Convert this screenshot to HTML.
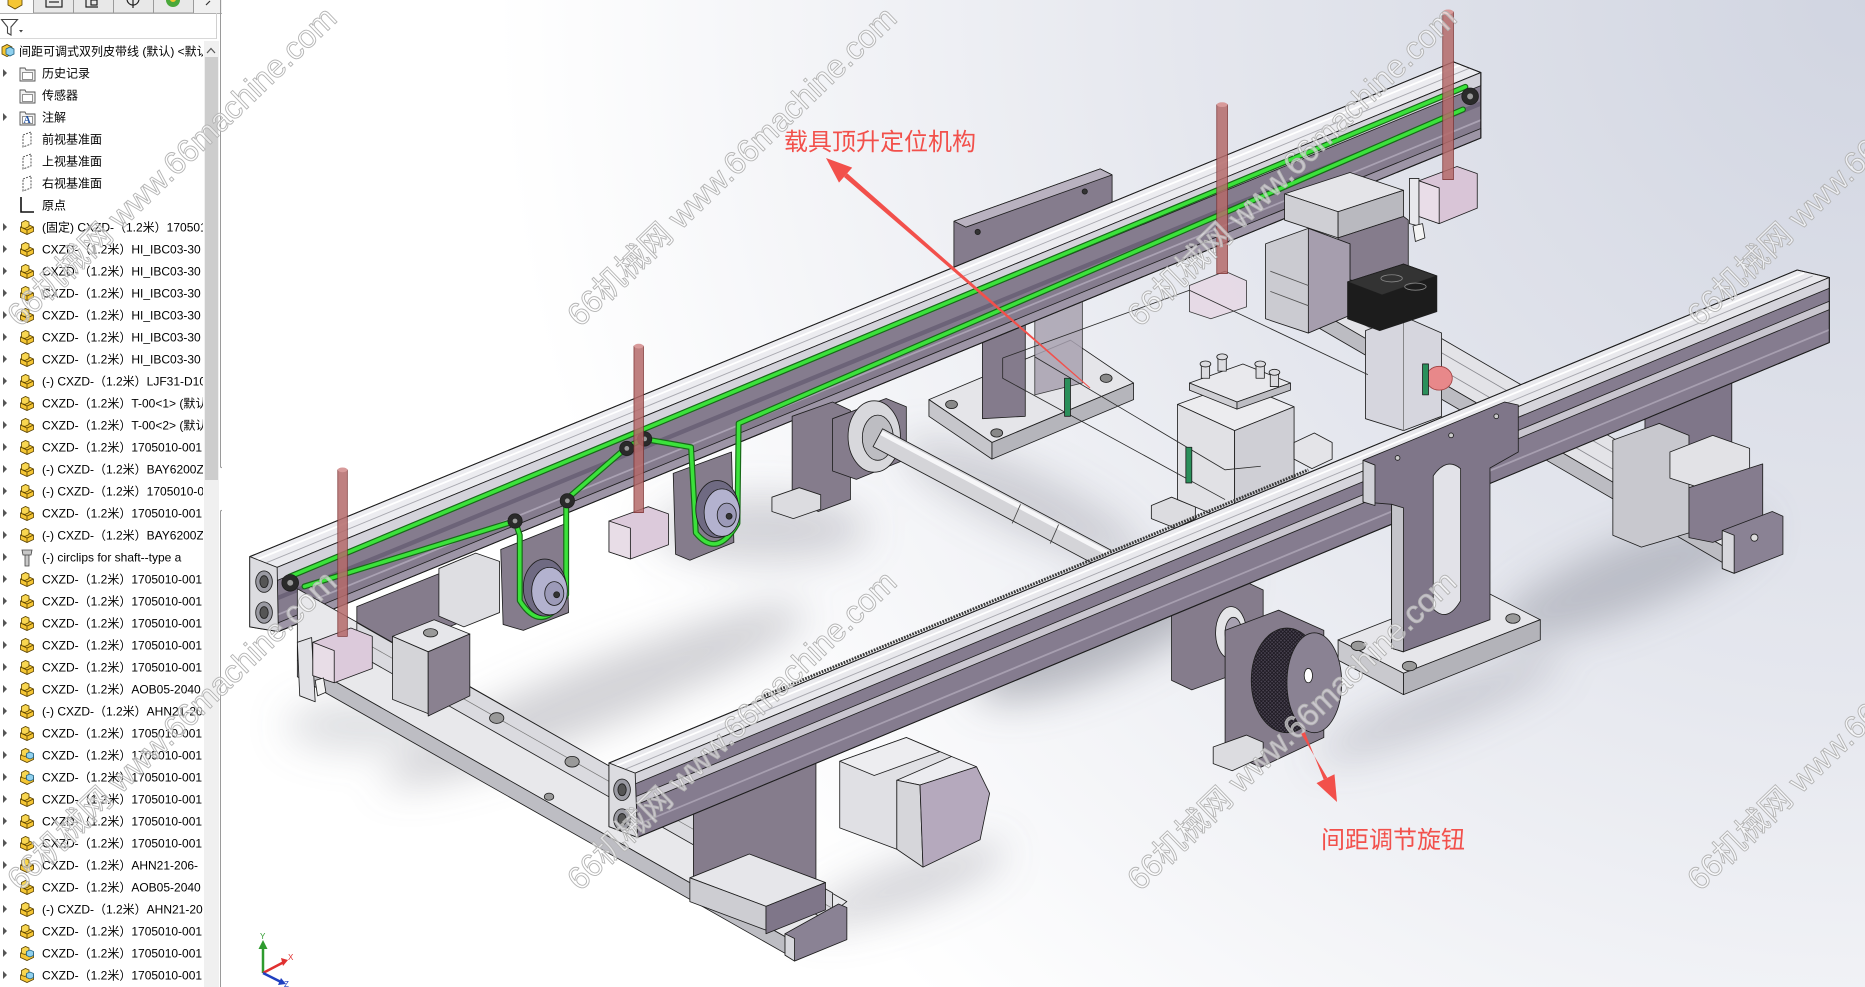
<!DOCTYPE html>
<html><head><meta charset="utf-8">
<style>
html,body{margin:0;padding:0;width:1865px;height:987px;overflow:hidden;background:#fff;}
svg{position:absolute;left:0;top:0;}
</style></head><body>
<svg width="1865" height="987" viewBox="0 0 1568 829.8" preserveAspectRatio="none">
<defs>
<radialGradient id="bg" gradientUnits="userSpaceOnUse" cx="1568" cy="0" r="1150">
<stop offset="0" stop-color="#d1d5e1"/><stop offset="0.5" stop-color="#e5e7ee"/><stop offset="1" stop-color="#ffffff"/>
</radialGradient>
<filter id="blur" x="-50%" y="-50%" width="200%" height="200%"><feGaussianBlur stdDeviation="16"/></filter>
<pattern id="knurl" width="3" height="3" patternUnits="userSpaceOnUse"><rect width="3" height="3" fill="#4a4452"/><path d="M0 0L3 3M3 0L0 3" stroke="#1a161e" stroke-width="0.7"/></pattern>
</defs>
<rect x="186.7" y="0" width="1381.3" height="829.8" fill="url(#bg)"/>
<g filter="url(#blur)" fill="#7d7f8c">
<ellipse cx="500" cy="585" rx="190" ry="28" transform="rotate(-22 500 585)" opacity=".35"/>
<ellipse cx="640" cy="445" rx="90" ry="28" opacity=".3"/>
<ellipse cx="930" cy="530" rx="120" ry="35" transform="rotate(-25 930 530)" opacity=".5"/>
<ellipse cx="1370" cy="485" rx="120" ry="30" transform="rotate(-22 1370 485)" opacity=".4"/>
<ellipse cx="860" cy="420" rx="110" ry="25" transform="rotate(25 860 420)" opacity=".3"/>
<ellipse cx="300" cy="610" rx="60" ry="22" opacity=".25"/>
<ellipse cx="1210" cy="595" rx="110" ry="18" transform="rotate(-22 1210 595)" opacity=".3"/>
<ellipse cx="760" cy="745" rx="90" ry="20" transform="rotate(-20 760 745)" opacity=".3"/>
</g>
<g stroke="#1e1e1e" stroke-width=".7" stroke-linejoin="round">
<!-- back center plate + base -->
<polygon points="802,186 925,142 935,147 935,205 812,250 802,246" fill="#857c8d"/>
<polygon points="802,186 925,142 935,147 812,191" fill="#b9b2c0"/>
<circle cx="822" cy="195" r="2.2" fill="#333"/><circle cx="912" cy="161" r="2.2" fill="#333"/>
<polygon points="781,336 900,286 953,322 834,372" fill="#e5e5e9"/>
<polygon points="781,336 834,372 834,386 781,350" fill="#c6c6cb"/>
<polygon points="834,372 953,322 953,336 834,386" fill="#b5b5bb"/>
<ellipse cx="800" cy="340" rx="5" ry="3.5" fill="#888"/><ellipse cx="930" cy="318" rx="5" ry="3.5" fill="#888"/><ellipse cx="838" cy="364" rx="5" ry="3.5" fill="#888"/>
<polygon points="826,283 862,270 862,350 826,352" fill="#847b8c"/>
<polygon points="870,262 910,250 910,322 870,332" fill="#a8a1b0" opacity=".85"/>
<!-- G2 right base -->
<polygon points="1068,238 1106,223 1488,445 1450,460" fill="#e3e3e7"/>
<polygon points="1068,238 1450,460 1450,474 1068,252" fill="#bcbcc2"/>
<line x1="1080" y1="234" x2="1462" y2="456" stroke="#8a8a90"/>
<line x1="1094" y1="228" x2="1476" y2="450" stroke="#8a8a90"/>
<!-- R1 back rail -->
<polygon points="210,468 1222,52 1245,61 233,477" fill="#ececf0"/>
<line x1="216" y1="470.5" x2="1228" y2="54.5" stroke="#ffffff" stroke-width="1.5"/>
<line x1="223" y1="473.5" x2="1235" y2="57.5" stroke="#a9a9b0" stroke-width=".8"/>
<polygon points="233,477 1245,61 1245,116 234,531" fill="#857c8e"/>
<polygon points="233,477 1245,61 1245,72 233,488" fill="#d3d2da"/>
<polygon points="233,501 1245,85 1245,89 233,505" fill="#6c6378" stroke="none"/>
<line x1="233" y1="517" x2="1245" y2="101" stroke="#aaa2b3" stroke-width="1.5"/>
<polygon points="233,524 1245,108 1245,116 234,531" fill="#9d95a6"/>
<polygon points="210,468 1222,52 1245,61 1245,116 234,531 210,527" fill="none" stroke-width=".9"/>
<polygon points="210,468 233,477 234,531 210,527" fill="#dcdce0"/>
<ellipse cx="222" cy="489" rx="7" ry="9" fill="#9a9aa2"/><ellipse cx="222" cy="489" rx="3.5" ry="5" fill="#555"/>
<ellipse cx="222" cy="515" rx="7" ry="9" fill="#9a9aa2"/><ellipse cx="222" cy="515" rx="3.5" ry="5" fill="#555"/>
<!-- right back blocks -->
<polygon points="1080,163 1135,145 1180,160 1125,178" fill="#e4e4e8"/>
<polygon points="1080,163 1125,178 1125,200 1080,185" fill="#cfcfd4"/>
<polygon points="1125,178 1180,160 1180,182 1125,200" fill="#b9b9bf"/>
<polygon points="1125,200 1180,182 1184,185 1184,225 1150,240 1125,232" fill="#857c8c"/>
<polygon points="1064,205 1100,192 1135,205 1135,265 1100,280 1064,268" fill="#cbcbd1"/>
<polygon points="1100,192 1135,205 1135,265 1100,280" fill="#a69eae"/>
<line x1="1068" y1="228" x2="1100" y2="240" stroke="#555"/><line x1="1068" y1="245" x2="1100" y2="257" stroke="#555"/>
<polygon points="1148,278 1180,266 1212,280 1212,350 1180,362 1148,352" fill="#d6d6de"/>
<line x1="1180" y1="268" x2="1180" y2="362" stroke="#777"/>
<polygon points="1133,237 1180,222 1208,232 1208,262 1160,278 1133,268" fill="#1c1c1c"/>
<polygon points="1133,237 1180,222 1208,232 1162,248" fill="#333"/>
<ellipse cx="1170" cy="234" rx="9" ry="3" fill="none" stroke="#888"/><ellipse cx="1190" cy="241" rx="9" ry="3" fill="none" stroke="#888"/>
<ellipse cx="1210" cy="318" rx="11" ry="10" fill="#e8888a" stroke="#a04040"/>
<polygon points="1185,150 1193,150 1193,190 1185,188" fill="#e8e8ec"/>
<polygon points="1193,152 1225,140 1242,146 1242,175 1210,188 1193,182" fill="#d9c5d7"/>
<polygon points="1193,152 1210,158 1210,188 1193,182" fill="#e9dde8"/>
<polygon points="1188,190 1196,188 1198,200 1190,203" fill="#f4f4f4"/>
<polygon points="1000,240 1030,228 1048,236 1048,258 1018,268 1000,262" fill="#e6d8e4" opacity=".85"/>
<!-- center pneumatic block -->
<polygon points="968,425 985,418 1005,426 1005,436 988,444 968,436" fill="#dcdce0"/>
<polygon points="990,340 1040,322 1088,342 1038,362" fill="#ececef"/>
<polygon points="990,340 1038,362 1038,440 990,420" fill="#e1e1e5"/>
<polygon points="1038,362 1088,342 1088,418 1038,440" fill="#cfcfd5"/>
<polygon points="1000,322 1045,306 1085,322 1040,338" fill="#e9e9ed"/>
<polygon points="1000,322 1040,338 1040,344 1000,328" fill="#cfcfd4"/>
<polygon points="1040,338 1085,322 1085,328 1040,344" fill="#bdbdc3"/>
<g fill="#dcdce0">
<rect x="1010" y="306" width="7" height="12"/><ellipse cx="1013.5" cy="306" rx="4.5" ry="2.5"/>
<rect x="1024" y="300" width="7" height="12"/><ellipse cx="1027.5" cy="300" rx="4.5" ry="2.5"/>
<rect x="1056" y="306" width="7" height="12"/><ellipse cx="1059.5" cy="306" rx="4.5" ry="2.5"/>
<rect x="1068" y="313" width="7" height="12"/><ellipse cx="1071.5" cy="313" rx="4.5" ry="2.5"/>
</g>
<polygon points="1088,372 1105,364 1120,372 1120,386 1103,394 1088,386" fill="#e4e4e8"/>
<!-- transparent plate lines -->
<g fill="none" stroke="#2a2a2a" stroke-width=".7">
<polyline points="843,301 1000,244"/><polyline points="843,301 843,318 1030,420"/><polyline points="870,300 1030,395 1060,392"/><polyline points="1000,244 1150,315"/>
</g>
<rect x="895" y="318" width="5" height="32" fill="#2a8f5a"/><rect x="997" y="376" width="5" height="30" fill="#2a8f5a"/><rect x="1196" y="306" width="5" height="26" fill="#2a8f5a"/>
<!-- bearing / shaft -->
<polygon points="666,350 700,338 715,345 715,420 688,430 666,420" fill="#857c8c"/>
<polygon points="649,418 672,410 690,416 690,428 667,436 649,430" fill="#dcdce0"/>
<polygon points="700,352 745,335 762,342 762,386 720,403 700,396" fill="#857c8c"/>
<ellipse cx="735" cy="367" rx="22" ry="30" fill="#d8d8dc"/>
<ellipse cx="738" cy="368" rx="13" ry="19" fill="#bdbdc2"/>
<polygon points="742,360.5 934,462.5 926,477.5 734,375.5" fill="#d4d4d8"/>
<line x1="741" y1="364" x2="933" y2="466" stroke="#f6f6f8" stroke-width="4"/>
<line x1="858" y1="424" x2="851" y2="440" stroke="#444"/><line x1="890" y1="441" x2="883" y2="457" stroke="#444"/>
<!-- left under-rail parts -->
<polygon points="300,510 395,472 395,520 345,540 345,560 300,578" fill="#857c8c"/>
<polygon points="369,478 400,465 420,472 420,515 390,527 369,518" fill="#dedee2"/>
<!-- G1 left base -->
<polygon points="250,495 250,555 668,792 712,758 300,523" fill="#e8e8eb"/>
<polygon points="250,555 668,792 668,806 250,569" fill="#bdbdc3"/>
<polygon points="300,523.5 700,750.7 700,776.7 300,549.5" fill="#dadadf"/>
<line x1="300" y1="536.5" x2="700" y2="763.7" stroke="#777" stroke-width=".6"/>
<ellipse cx="417.6" cy="603.7" rx="6" ry="4.5" fill="#999"/><ellipse cx="481" cy="640.4" rx="6" ry="4.5" fill="#999"/><ellipse cx="461.6" cy="669.8" rx="4" ry="3" fill="#999"/>
<polygon points="660,785 705,760 712,763 712,790 668,808 660,803" fill="#8a8294"/>
<polygon points="660,785 668,789 668,808 660,803" fill="#d7d7dc"/>
<!-- left carriage + sensor -->
<polygon points="330,535 365,521 395,533 360,548" fill="#e6e6ea"/>
<polygon points="330,535 360,548 360,600 330,588" fill="#d4d4d8"/>
<polygon points="360,548 395,533 395,585 360,602" fill="#8a8190"/>
<ellipse cx="362" cy="532" rx="6" ry="3.5" fill="#999"/>
<polygon points="250,540 262,536 265,590 252,585" fill="#e2e2e6"/>
<polygon points="263,540 295,528 313,535 313,562 281,574 263,568" fill="#dccadb"/>
<polygon points="263,540 281,547 281,574 263,568" fill="#e8dde7"/>
<polygon points="265,572 272,570 274,582 267,585" fill="#f4f4f4"/>
<!-- pulley plates -->
<polygon points="421,462 476,440 478,515 440,530 423,525" fill="#857c8c"/>
<polygon points="566,398 615,380 617,456 580,471 568,466" fill="#857c8c"/>
<polygon points="512,438 545,426 562,432 562,458 530,470 512,464" fill="#dccadb"/>
<polygon points="512,438 530,444 530,470 512,464" fill="#e8dde7"/>
</g>
<!-- belts -->
<g fill="none" stroke-linejoin="round" stroke-linecap="round">
<polyline points="243.6,484.8 1232,73" stroke="#176a17" stroke-width="5"/>
<polyline points="243.6,484.8 1232,73" stroke="#3be23b" stroke-width="3"/>
<path d="M256,493 L433,438 L437,450 L437,505 Q456,535 476,500 L476,420 L527,376 L541,369 L581,376 L585,448 Q603,470 620,440 L621,356 L1230,92" stroke="#176a17" stroke-width="5"/>
<path d="M256,493 L433,438 L437,450 L437,505 Q456,535 476,500 L476,420 L527,376 L541,369 L581,376 L585,448 Q603,470 620,440 L621,356 L1230,92" stroke="#3be23b" stroke-width="3"/>
</g>
<g stroke="#1e1e1e" stroke-width=".7" stroke-linejoin="round">
<ellipse cx="458" cy="494" rx="18" ry="24" fill="#6f6a82"/><ellipse cx="462" cy="497" rx="15" ry="20" fill="#b3b2cf"/><ellipse cx="466" cy="499" rx="8" ry="10" fill="#9c9ab8"/><circle cx="468" cy="500" r="2.5" fill="#333"/>
<ellipse cx="603" cy="428" rx="18" ry="24" fill="#6f6a82"/><ellipse cx="607" cy="431" rx="15" ry="20" fill="#b3b2cf"/><ellipse cx="611" cy="433" rx="8" ry="10" fill="#9c9ab8"/><circle cx="613" cy="434" r="2.5" fill="#333"/>
<g fill="#2a2a2a"><circle cx="244" cy="490" r="7"/><circle cx="433" cy="438" r="6"/><circle cx="477" cy="421" r="6"/><circle cx="527" cy="377" r="6"/><circle cx="542" cy="369" r="6"/><circle cx="1236" cy="81" r="7"/></g>
<g fill="#999" stroke="none"><circle cx="244" cy="490" r="2.5"/><circle cx="433" cy="438" r="2"/><circle cx="477" cy="421" r="2"/><circle cx="527" cy="377" r="2"/><circle cx="542" cy="369" r="2"/><circle cx="1236" cy="81" r="2.5"/></g>
<!-- right support blocks -->
<polygon points="1383,345 1456,318 1456,395 1383,420" fill="#7f7689"/>
<polygon points="1356,370 1395,356 1420,366 1420,448 1380,460 1356,450" fill="#c8c8ce"/>
<polygon points="1404,380 1440,366 1471,377 1471,398 1435,412 1404,402" fill="#e2e2e6"/>
<polygon points="1420,410 1482,390 1482,440 1440,456 1420,452" fill="#857c8e"/>
<polygon points="1448,446 1490,430 1499,434 1499,466 1458,482 1448,478" fill="#8a8294"/>
<polygon points="1448,446 1458,450 1458,482 1448,478" fill="#d7d7dc"/>
<circle cx="1475" cy="452" r="3" fill="#ddd"/>
<!-- R2 supports -->
<polygon points="583,668 686,630 686,740 625,765 583,750" fill="#857c8c"/>
<polygon points="580,738 630,718 694,742 644,762" fill="#e6e6ea"/>
<polygon points="580,738 644,762 644,782 580,758" fill="#cdcdd2"/>
<polygon points="644,762 694,742 694,765 644,785" fill="#7f7689"/>
<!-- motor -->
<polygon points="706,640 762,620 800,636 773.5,660 754,656 754,714 706,696" fill="#e0e0e4"/>
<polygon points="706,640 762,620 790,632 735,652" fill="#ededf0"/>
<polygon points="754,656 800,636 821,644.6 773.5,660" fill="#ececf0"/>
<polygon points="754,656 773.5,660 776,729 754,714" fill="#d6d6da"/>
<polygon points="773.5,660 821,644.6 832,667 824,706 776,729" fill="#b5a9bd"/>
<polygon points="985,510 1045,488 1062,496 1062,558 1002,580 985,572" fill="#857c8c"/>
<ellipse cx="1035" cy="532" rx="13" ry="22" fill="#e5e5e8"/><ellipse cx="1037" cy="532" rx="7" ry="13" fill="#a7a0b0"/>
</g>
<!-- R2 front rail -->
<g stroke="#1e1e1e" stroke-width=".7" stroke-linejoin="round">
<line x1="640" y1="586" x2="1100" y2="395" stroke="#3a3a3a" stroke-width="2.5" stroke-dasharray="1.5 1"/>
<polygon points="512,641.5 1511,227 1538,233.3 534,650" fill="#e9e9ed"/>
<line x1="518" y1="644" x2="1517" y2="229.5" stroke="#fff" stroke-width="1.5"/>
<line x1="525" y1="647" x2="1524" y2="232" stroke="#a9a9b0" stroke-width=".8"/>
<polygon points="534,650 1538,233.3 1538,288 536,704" fill="#857c8f"/>
<polygon points="534,650 1538,233.3 1538,242.3 534,659" fill="#d5d4db"/>
<polygon points="534,670 1538,253.3 1538,260.3 534,677" fill="#c9c6cf"/>
<line x1="534" y1="694" x2="1538" y2="277.3" stroke="#a79fb0" stroke-width="1.5"/>
<polygon points="512,641.5 1511,227 1538,233.3 1538,288 536,704 512,695" fill="none" stroke-width=".9"/>
<polygon points="512,641.5 534,650 536,704 512,695" fill="#dcdce0"/>
<ellipse cx="523" cy="664" rx="7" ry="9" fill="#9a9aa2"/><ellipse cx="523" cy="664" rx="3.5" ry="5" fill="#555"/>
<ellipse cx="523" cy="689" rx="7" ry="9" fill="#9a9aa2"/><ellipse cx="523" cy="689" rx="3.5" ry="5" fill="#555"/>
<!-- T plate base -->
<polygon points="1125,538 1240,493 1295,521 1180,566" fill="#e6e6ea"/>
<polygon points="1125,538 1180,566 1180,584 1125,555" fill="#c9c9ce"/>
<polygon points="1180,566 1295,521 1295,538 1180,584" fill="#b3b3b9"/>
<ellipse cx="1142" cy="543" rx="6" ry="4" fill="#999"/><ellipse cx="1272" cy="520" rx="6" ry="4" fill="#999"/><ellipse cx="1185" cy="560" rx="6" ry="4" fill="#999"/><ellipse cx="1238" cy="502" rx="4" ry="3" fill="#999"/>
<!-- T plate -->
<polygon points="1146,387 1265,338 1276.5,340.5 1276.5,380 1252.7,393.5 1252.7,521 1179.6,548 1170,545 1170,424 1146,422" fill="#7f7689"/>
<polygon points="1146,387 1156,391 1156,425 1146,422" fill="#d0d0d6"/>
<polygon points="1170,424 1180,427 1180,548 1170,545" fill="#c4c4ca"/>
<path d="M1205,400 Q1216,384 1228,394 L1228,505 Q1217,524 1205,512 Z" fill="#e2e2e8"/>
<circle cx="1175" cy="385" r="2" fill="#ccc"/><circle cx="1220" cy="366" r="2" fill="#ccc"/><circle cx="1258" cy="350" r="2" fill="#ccc"/>
<!-- knob -->
<polygon points="1030,530 1075,513 1113,530 1113,620 1060,645 1030,632" fill="#857c8c"/>
<polygon points="1020,628 1048,618 1062,624 1062,636 1036,648 1020,642" fill="#dcdce0"/>
<ellipse cx="1082" cy="572" rx="30" ry="44" fill="url(#knurl)"/>
<ellipse cx="1105" cy="574" rx="23" ry="42" fill="#8a8293"/>
<ellipse cx="1100" cy="568" rx="3.5" ry="6" fill="#fff"/>
</g>
<!-- rods -->
<g stroke="#7a3030" stroke-width=".6" fill="#b46a6a" fill-opacity=".85">
<rect x="284" y="395" width="8" height="140"/><rect x="533" y="291" width="8" height="140"/><rect x="1023" y="88" width="9" height="142"/><rect x="1213" y="10" width="9" height="141"/>
</g>
<g fill="#d89a9a"><ellipse cx="288" cy="395" rx="4" ry="2"/><ellipse cx="537" cy="291" rx="4" ry="2"/><ellipse cx="1027.5" cy="88" rx="4.5" ry="2"/><ellipse cx="1217.5" cy="10" rx="4.5" ry="2"/></g>
</svg>

<svg width="222" height="987" viewBox="0 0 222 987">
<defs>
<symbol id="pt" viewBox="0 0 17 17">
<path d="M1.5 8 L8 5 L14.5 8 L14.5 12.5 L8 15.5 L1.5 12.5Z" fill="#f5c634" stroke="#5a4200" stroke-width=".8"/>
<path d="M1.5 8 L8 11 L14.5 8 M8 11 L8 15.5" stroke="#5a4200" stroke-width=".8" fill="none"/>
<path d="M2.5 8.5 L2.5 3.5 L6.5 1.5 L10 3 L10 7.5 L6 9.5Z" fill="#f8d650" stroke="#5a4200" stroke-width=".8"/>
</symbol>
<symbol id="ptb" viewBox="0 0 17 17">
<path d="M1.5 8 L8 5 L14.5 8 L14.5 12.5 L8 15.5 L1.5 12.5Z" fill="#f5c634" stroke="#5a4200" stroke-width=".8"/>
<path d="M2.5 8.5 L2.5 3.5 L6.5 1.5 L10 3 L10 7.5 L6 9.5Z" fill="#f8d650" stroke="#5a4200" stroke-width=".8"/>
<path d="M7.5 6.5 L11 5 L14.5 6.5 L14.5 10.5 L11 12 L7.5 10.5Z" fill="#8fd0ee" stroke="#1f5f80" stroke-width=".8"/>
</symbol>
<symbol id="fd" viewBox="0 0 17 17">
<path d="M1 3 L6 3 L7 5 L16 5 L16 16 L1 16Z" fill="#f2f2f2" stroke="#555" stroke-width=".9"/>
<rect x="3.5" y="7.5" width="10" height="7" fill="#fff" stroke="#666" stroke-width=".7"/>
</symbol>
<symbol id="pl" viewBox="0 0 17 17">
<path d="M4 4 L12 1 L12 13 L4 16Z" fill="none" stroke="#444" stroke-width=".9" stroke-dasharray="2 1.2"/>
</symbol>
<clipPath id="tc"><rect x="0" y="40" width="203" height="947"/></clipPath>
</defs>
<rect width="222" height="987" fill="#fff"/>
<rect x="0" y="0" width="222" height="13" fill="#f0f0f0"/>
<rect x="0" y="0" width="33" height="13" fill="#fbfbfb"/>
<path d="M8 0 L8 5 L15 9 L22 5 L22 0" fill="#f5c634" stroke="#5a4200" stroke-width=".8"/>
<g fill="#e8e8e8" stroke="#9a9a9a" stroke-width="1">
<rect x="33.5" y="-1" width="40" height="14"/><rect x="73.5" y="-1" width="40" height="14"/><rect x="113.5" y="-1" width="40" height="14"/><rect x="153.5" y="-1" width="40" height="14"/>
</g>
<g stroke="#222" fill="none" stroke-width="1.2">
<rect x="46" y="-2" width="16" height="9"/><line x1="49" y1="2" x2="59" y2="2"/>
<path d="M86 -2 L86 7 L98 7"/><rect x="91" y="0" width="6" height="5"/>
<circle cx="133" cy="-1" r="6"/><line x1="133" y1="-1" x2="133" y2="8"/>
</g>
<circle cx="173" cy="-1" r="7" fill="#d24a2a"/><path d="M166 0 A7 7 0 0 0 180 0Z" fill="#4aa83a"/><circle cx="173" cy="-1" r="3" fill="#f4c430"/>
<path d="M206 5 L210 1" stroke="#333" stroke-width="1.2"/>
<line x1="0" y1="13.5" x2="222" y2="13.5" stroke="#b0b0b0"/>
<path d="M1.5 19.5 L17.5 19.5 L11 27 L11 35 L7.5 33 L7.5 27Z" fill="#fff" stroke="#444" stroke-width="1.1"/>
<path d="M19 30 L23 30 L21 32.5Z" fill="#444"/>
<line x1="0" y1="38.5" x2="216" y2="38.5" stroke="#d8d8d8"/>
<line x1="216.5" y1="13" x2="216.5" y2="39" stroke="#d0d0d0"/>
<rect x="204" y="41" width="15" height="946" fill="#f0f0f0"/>
<rect x="205" y="57" width="13" height="423" fill="#cdcdcd"/>
<polyline points="207,53 211,48.5 215,53" fill="none" stroke="#555" stroke-width="1.2"/>
<path d="M220.5 0 L220.5 467 L229 471 L229 507 L220.5 511 L220.5 987" fill="none" stroke="#9a9a9a"/>
<circle cx="225" cy="487" r="2.5" fill="#fff" stroke="#999"/>
<g>
<path d="M2 47 L7 44.5 L12 47 L12 54 L7 56.5 L2 54Z" fill="#f5c634" stroke="#5a4200" stroke-width=".8"/>
<path d="M6 49 L10 47 L14 49 L14 54 L10 56 L6 54Z" fill="#8fd0ee" stroke="#1f5f80" stroke-width=".8"/>
<use href="#fd" x="19" y="65" width="17" height="17"/>
<use href="#fd" x="19" y="87" width="17" height="17"/>
<use href="#fd" x="19" y="109" width="17" height="17"/>
<text x="23.5" y="123" font-family="'Liberation Serif',serif" font-size="10" font-weight="bold" fill="#1f4f9f">A</text>
<use href="#pl" x="19" y="131" width="17" height="17"/>
<use href="#pl" x="19" y="153" width="17" height="17"/>
<use href="#pl" x="19" y="175" width="17" height="17"/>
<path d="M21 197 L21 212 L34 212" fill="none" stroke="#111" stroke-width="1.6"/>
</g>
<g>
<use href="#pt" x="19" y="219" width="17" height="17"/>
<use href="#pt" x="19" y="241" width="17" height="17"/><use href="#pt" x="19" y="263" width="17" height="17"/><use href="#pt" x="19" y="285" width="17" height="17"/>
<use href="#pt" x="19" y="307" width="17" height="17"/><use href="#pt" x="19" y="329" width="17" height="17"/><use href="#pt" x="19" y="351" width="17" height="17"/>
<use href="#pt" x="19" y="373" width="17" height="17"/><use href="#pt" x="19" y="395" width="17" height="17"/><use href="#pt" x="19" y="417" width="17" height="17"/>
<use href="#pt" x="19" y="439" width="17" height="17"/><use href="#pt" x="19" y="461" width="17" height="17"/><use href="#pt" x="19" y="483" width="17" height="17"/>
<use href="#pt" x="19" y="505" width="17" height="17"/><use href="#pt" x="19" y="527" width="17" height="17"/>
<path d="M22 550 L32 550 L31 555 L23 555Z M25 555 L29 555 L29 566 L25 566Z" fill="#c8c8c8" stroke="#444" stroke-width=".8"/>
<use href="#pt" x="19" y="571" width="17" height="17"/><use href="#pt" x="19" y="593" width="17" height="17"/><use href="#pt" x="19" y="615" width="17" height="17"/>
<use href="#pt" x="19" y="637" width="17" height="17"/><use href="#pt" x="19" y="659" width="17" height="17"/><use href="#pt" x="19" y="681" width="17" height="17"/>
<use href="#pt" x="19" y="703" width="17" height="17"/><use href="#pt" x="19" y="725" width="17" height="17"/>
<use href="#ptb" x="19" y="747" width="17" height="17"/><use href="#ptb" x="19" y="769" width="17" height="17"/>
<use href="#pt" x="19" y="791" width="17" height="17"/><use href="#pt" x="19" y="813" width="17" height="17"/><use href="#pt" x="19" y="835" width="17" height="17"/>
<use href="#pt" x="19" y="857" width="17" height="17"/><use href="#pt" x="19" y="879" width="17" height="17"/><use href="#pt" x="19" y="901" width="17" height="17"/>
<use href="#pt" x="19" y="923" width="17" height="17"/>
<use href="#ptb" x="19" y="945" width="17" height="17"/><use href="#ptb" x="19" y="967" width="17" height="17"/>
</g>
<g fill="#555">
<path d="M3 69 L7 73 L3 77Z"/><path d="M3 113 L7 117 L3 121Z"/>
<path d="M3 223 L7 227 L3 231Z"/><path d="M3 245 L7 249 L3 253Z"/><path d="M3 267 L7 271 L3 275Z"/><path d="M3 289 L7 293 L3 297Z"/><path d="M3 311 L7 315 L3 319Z"/>
<path d="M3 333 L7 337 L3 341Z"/><path d="M3 355 L7 359 L3 363Z"/><path d="M3 377 L7 381 L3 385Z"/><path d="M3 399 L7 403 L3 407Z"/><path d="M3 421 L7 425 L3 429Z"/>
<path d="M3 443 L7 447 L3 451Z"/><path d="M3 465 L7 469 L3 473Z"/><path d="M3 487 L7 491 L3 495Z"/><path d="M3 509 L7 513 L3 517Z"/><path d="M3 531 L7 535 L3 539Z"/>
<path d="M3 553 L7 557 L3 561Z"/><path d="M3 575 L7 579 L3 583Z"/><path d="M3 597 L7 601 L3 605Z"/><path d="M3 619 L7 623 L3 627Z"/><path d="M3 641 L7 645 L3 649Z"/>
<path d="M3 663 L7 667 L3 671Z"/><path d="M3 685 L7 689 L3 693Z"/><path d="M3 707 L7 711 L3 715Z"/><path d="M3 729 L7 733 L3 737Z"/><path d="M3 751 L7 755 L3 759Z"/>
<path d="M3 773 L7 777 L3 781Z"/><path d="M3 795 L7 799 L3 803Z"/><path d="M3 817 L7 821 L3 825Z"/><path d="M3 839 L7 843 L3 847Z"/><path d="M3 861 L7 865 L3 869Z"/>
<path d="M3 883 L7 887 L3 891Z"/><path d="M3 905 L7 909 L3 913Z"/><path d="M3 927 L7 931 L3 935Z"/><path d="M3 949 L7 953 L3 957Z"/><path d="M3 971 L7 975 L3 979Z"/>
</g>
<g font-family="'Liberation Sans','Noto Sans CJK SC',sans-serif" font-size="12" fill="#000" clip-path="url(#tc)">
<text x="19" y="55.5">间距可调式双列皮带线 (默认) &lt;默认&gt;</text>
<text x="42" y="77.5">历史记录</text>
<text x="42" y="99.5">传感器</text>
<text x="42" y="121.5">注解</text>
<text x="42" y="143.5">前视基准面</text>
<text x="42" y="165.5">上视基准面</text>
<text x="42" y="187.5">右视基准面</text>
<text x="42" y="209.5">原点</text>
<text x="42" y="231.5">(固定) CXZD-（1.2米）1705010-001</text>
<text x="42" y="253.5">CXZD-（1.2米）HI_IBC03-30</text>
<text x="42" y="275.5">CXZD-（1.2米）HI_IBC03-30</text>
<text x="42" y="297.5">CXZD-（1.2米）HI_IBC03-30</text>
<text x="42" y="319.5">CXZD-（1.2米）HI_IBC03-30</text>
<text x="42" y="341.5">CXZD-（1.2米）HI_IBC03-30</text>
<text x="42" y="363.5">CXZD-（1.2米）HI_IBC03-30</text>
<text x="42" y="385.5">(-) CXZD-（1.2米）LJF31-D10</text>
<text x="42" y="407.5">CXZD-（1.2米）T-00&lt;1&gt; (默认</text>
<text x="42" y="429.5">CXZD-（1.2米）T-00&lt;2&gt; (默认</text>
<text x="42" y="451.5">CXZD-（1.2米）1705010-001</text>
<text x="42" y="473.5">(-) CXZD-（1.2米）BAY6200Z</text>
<text x="42" y="495.5">(-) CXZD-（1.2米）1705010-0</text>
<text x="42" y="517.5">CXZD-（1.2米）1705010-001</text>
<text x="42" y="539.5">(-) CXZD-（1.2米）BAY6200Z</text>
<text x="42" y="561.5">(-) circlips for shaft--type a</text>
<text x="42" y="583.5">CXZD-（1.2米）1705010-001</text>
<text x="42" y="605.5">CXZD-（1.2米）1705010-001</text>
<text x="42" y="627.5">CXZD-（1.2米）1705010-001</text>
<text x="42" y="649.5">CXZD-（1.2米）1705010-001</text>
<text x="42" y="671.5">CXZD-（1.2米）1705010-001</text>
<text x="42" y="693.5">CXZD-（1.2米）AOB05-2040</text>
<text x="42" y="715.5">(-) CXZD-（1.2米）AHN21-206</text>
<text x="42" y="737.5">CXZD-（1.2米）1705010-001</text>
<text x="42" y="759.5">CXZD-（1.2米）1705010-001</text>
<text x="42" y="781.5">CXZD-（1.2米）1705010-001</text>
<text x="42" y="803.5">CXZD-（1.2米）1705010-001</text>
<text x="42" y="825.5">CXZD-（1.2米）1705010-001</text>
<text x="42" y="847.5">CXZD-（1.2米）1705010-001</text>
<text x="42" y="869.5">CXZD-（1.2米）AHN21-206-</text>
<text x="42" y="891.5">CXZD-（1.2米）AOB05-2040</text>
<text x="42" y="913.5">(-) CXZD-（1.2米）AHN21-206</text>
<text x="42" y="935.5">CXZD-（1.2米）1705010-001</text>
<text x="42" y="957.5">CXZD-（1.2米）1705010-001</text>
<text x="42" y="979.5">CXZD-（1.2米）1705010-001</text>
</g>
</svg>

<svg width="1865" height="987" viewBox="0 0 1865 987">
<g font-family="'Liberation Sans','Noto Sans CJK SC',sans-serif" font-size="32" fill="#ffffff" fill-opacity=".55" stroke="#b4b4b4" stroke-width=".9">
<text x="20" y="328" transform="rotate(-44 20 328)">66机械网 www.66machine.com</text>
<text x="580" y="328" transform="rotate(-44 580 328)">66机械网 www.66machine.com</text>
<text x="1140" y="328" transform="rotate(-44 1140 328)">66机械网 www.66machine.com</text>
<text x="1700" y="328" transform="rotate(-44 1700 328)">66机械网 www.66machine.com</text>
<text x="20" y="892" transform="rotate(-44 20 892)">66机械网 www.66machine.com</text>
<text x="580" y="892" transform="rotate(-44 580 892)">66机械网 www.66machine.com</text>
<text x="1140" y="892" transform="rotate(-44 1140 892)">66机械网 www.66machine.com</text>
<text x="1700" y="892" transform="rotate(-44 1700 892)">66机械网 www.66machine.com</text>
</g>
<g fill="#f2504b">
<text x="784" y="150" font-family="'Liberation Sans','Noto Sans CJK SC',sans-serif" font-size="24">载具顶升定位机构</text>
<text x="1321" y="848" font-family="'Liberation Sans','Noto Sans CJK SC',sans-serif" font-size="24">间距调节旋钮</text>
<polygon points="826,158 852.2,167.6 839,182.6"/>
<polygon points="847.2,173.2 1090.3,387.6 1089.7,388.4 844,177"/>
<polygon points="1337,802 1334.5,774.3 1316.5,783.1"/>
<polygon points="1301.2,733.9 1327.3,777.8 1323.7,779.6 1304.8,732.1"/>
</g>
<g stroke-width="2.5">
<line x1="263" y1="973" x2="263" y2="947" stroke="#2e9b2e"/>
<line x1="263" y1="973" x2="284" y2="962" stroke="#e03030"/>
<line x1="263" y1="973" x2="281" y2="982" stroke="#2040c0"/>
</g>
<polygon points="258.5,949 267.5,949 263,940" fill="#2e9b2e"/>
<polygon points="281,958 288,960 283,966" fill="#e03030"/>
<polygon points="278,985 286,984 281,978" fill="#2040c0"/>
<g font-family="'Liberation Sans',sans-serif" font-size="8">
<text x="260" y="939" fill="#2e9b2e">Y</text><text x="288" y="960" fill="#e03030">X</text><text x="284" y="987" fill="#2040c0">Z</text>
</g>
</svg>
</body></html>
